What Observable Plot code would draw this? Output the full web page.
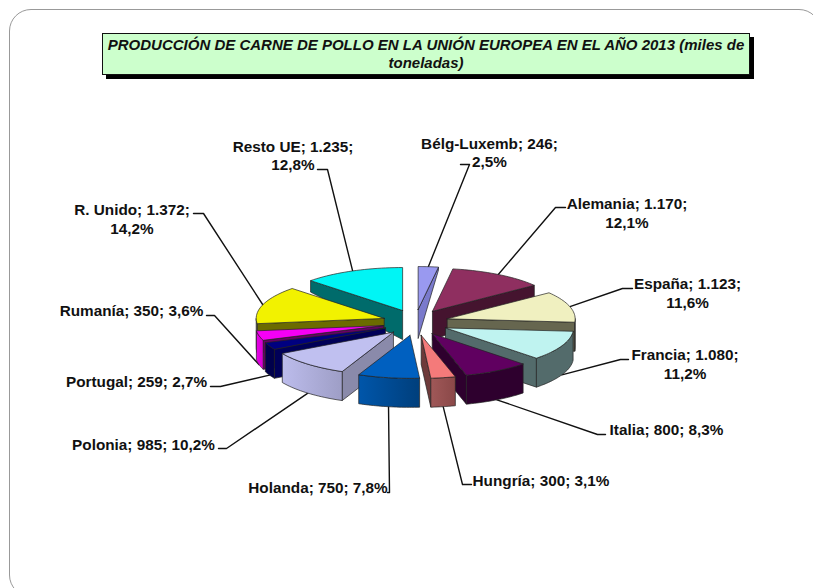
<!DOCTYPE html>
<html lang="es">
<head>
<meta charset="utf-8">
<script src="https://cdn.jsdelivr.net/npm/d3@7"></script>
<script src="https://cdn.jsdelivr.net/npm/@observablehq/plot@0.6"></script>
<style>
  html, body { margin: 0; padding: 0; background: #fff; }
  #page { position: relative; width: 813px; height: 588px; overflow: hidden; font-family: "Liberation Sans", Arial, sans-serif; }
  #frame { position: absolute; left: 9px; top: 9px; width: 812px; height: 588px; border: 1px solid #999; border-radius: 22px; box-sizing: border-box; }
  #title { position: absolute; left: 102px; top: 33px; width: 648px; height: 42px; box-sizing: border-box; border: 1px solid #111; background: #ccffcc; box-shadow: 4px 4px 0 #000; text-align: center; font-weight: bold; font-style: italic; font-size: 15px; line-height: 18px; padding-top: 2px; color: #111; }
  #chart { position: absolute; left: 0; top: 0; }
  #chart svg { display: block; background: transparent; }
</style>
</head>
<body>
<div id="page">
  <div id="frame"></div>
  <div id="title">PRODUCCIÓN DE CARNE DE POLLO EN LA UNIÓN EUROPEA EN EL AÑO 2013 (miles de<br>toneladas)</div>
  <div id="chart"></div>
</div>
<script>
// ---- Data ----
const countries = ["Bélg-Luxemb","Alemania","España","Francia","Italia","Hungría","Holanda","Polonia","Portugal","Rumanía","R. Unido","Resto UE"];
const tonnes = [246,1170,1123,1080,800,300,750,985,259,350,1372,1235];
const shares = ["2,5%","12,1%","11,6%","11,2%","8,3%","3,1%","7,8%","10,2%","2,7%","3,6%","14,2%","12,8%"];

// ---- Colours ----
const topColors  = ["#9999f0","#8f2f60","#f0f0c0","#bff3f0","#600060","#f47a7a","#0060c0","#c0c0f0","#000080","#f500f5","#f2f200","#00f5f5"];
const cutColors  = ["#7a7acc","#45142f","#66664f","#536b6b","#2e002e","#6e3a3a","#003f80","#8a8aaa","#000058","#660066","#6b6b00","#006b6b"];
const wallFrom   = ["#7a7acc","#45142f","#66664f","#536b6b","#2e002e","#a05858","#0056aa","#bcbcec","#00004c","#e800e8","#8a8a70","#006b6b"];
const wallTo     = ["#7a7acc","#45142f","#66664f","#536b6b","#2e002e","#8a4848","#003f7c","#9e9ec6","#00004c","#d000d0","#8a8a70","#006b6b"];

// ---- Label layout (annotation placement, scene units) ----
const labelCentres = [[489,151.5],[626.5,212],[687,292],[684.5,363],[666,429],[540.5,480],[317.5,487],[143,444],[136,381],[131,310],[131.5,218],[292.5,154.5]];
const leaderElbows = [[469,164],[555,207],[622,288],[620,359],[597,434],[462,484],[389,492],[226,448],[220,386],[214,315],[203,213],[327,169]];
const leaderEnds   = [[460,164],[565,207],[632,288],[628,359],[605,434],[471,484],[387,492],[218,448],[210,386],[206,315],[193,213],[317,169]];
const twoLines = new Set(["Bélg-Luxemb","Alemania","España","Francia","R. Unido","Resto UE"]);

// ---- Pie projection parameters ----
const pieCentre = {x: 415, y: 322};
const radius = {x: 128, y: 43};
const explode = {x: 33, y: 13};
const depthMax = 29;

const arcs = d3.pie().sort(null).value(d => d)(tonnes);

const thickness = y => depthMax * Math.min(1, Math.max(0, (y - 262) / 46));
const down = p => ({x: p.x, y: p.y + thickness(p.y)});

const slices = arcs.map((a, i) => {
  const mid = (a.startAngle + a.endAngle) / 2;
  const apex = {x: pieCentre.x + explode.x * Math.sin(mid), y: pieCentre.y - explode.y * Math.cos(mid)};
  const rim = t => ({x: apex.x + radius.x * Math.sin(t), y: apex.y - radius.y * Math.cos(t)});
  const sweep = (t0, t1) => d3.range(0, 25).map(k => rim(t0 + (t1 - t0) * k / 24));
  const faces = [];
  const cut = t => { const r = rim(t); return [apex, r, down(r), down(apex), apex]; };
  // radial cut faces that look towards the viewer
  if (Math.sin(a.startAngle) < -1e-6) faces.push({pts: cut(a.startAngle), fill: cutColors[i]});
  if (Math.sin(a.endAngle) > 1e-6) faces.push({pts: cut(a.endAngle), fill: cutColors[i]});
  // outer wall, only its front half is visible
  const t0 = Math.max(a.startAngle, Math.PI / 2), t1 = Math.min(a.endAngle, 3 * Math.PI / 2);
  if (t1 > t0) {
    const s = sweep(t0, t1);
    faces.push({pts: [...s, ...s.slice().reverse().map(down), s[0]], fill: `url(#wall-${i})`});
  }
  // top surface
  faces.push({pts: [apex, ...sweep(a.startAngle, a.endAngle), apex], fill: topColors[i]});
  const midRim = rim(mid);
  const anchor = Math.cos(mid) < 0 ? down(midRim) : midRim;
  return {i, mid, faces, anchor};
});

// painter's order: far slices first
const painted = slices.slice().sort((a, b) => Math.cos(b.mid) - Math.cos(a.mid));

const gradients = () => {
  const defs = d3.create("svg:defs");
  wallFrom.forEach((c, i) => {
    const g = defs.append("linearGradient").attr("id", `wall-${i}`);
    g.append("stop").attr("offset", "0%").attr("stop-color", c);
    g.append("stop").attr("offset", "100%").attr("stop-color", wallTo[i]);
  });
  return defs.node();
};

const labels = countries.map((c, i) => {
  const v = d3.format(",")(tonnes[i]).replace(/,/g, ".");
  const sep = twoLines.has(c) ? "\n" : " ";
  return {text: `${c}; ${v};${sep}${shares[i]}`, x: labelCentres[i][0], y: labelCentres[i][1]};
});

const leaders = slices.map(s => [s.anchor, {x: leaderElbows[s.i][0], y: leaderElbows[s.i][1]}, {x: leaderEnds[s.i][0], y: leaderEnds[s.i][1]}]);

const chart = Plot.plot({
  width: 813,
  height: 588,
  margin: 0,
  x: {domain: [0, 813], range: [0, 813], axis: null},
  y: {domain: [0, 588], range: [0, 588], axis: null},
  style: {background: "transparent"},
  marks: [
    gradients,
    ...leaders.map(l => Plot.line(l, {x: "x", y: "y", stroke: "#111", strokeWidth: 1.4})),
    ...painted.flatMap(s => s.faces.map(f => Plot.line(f.pts, {x: "x", y: "y", fill: f.fill, stroke: "#222", strokeWidth: 0.7, strokeLinejoin: "round"}))),
    Plot.text(labels, {x: "x", y: "y", text: "text", textAnchor: "middle", lineAnchor: "middle", lineHeight: 1.2, fontFamily: "Liberation Sans, Arial, sans-serif", fontWeight: "bold", fontSize: 15.3, fill: "#111"})
  ]
});
document.getElementById("chart").appendChild(chart);
</script>
</body>
</html>
